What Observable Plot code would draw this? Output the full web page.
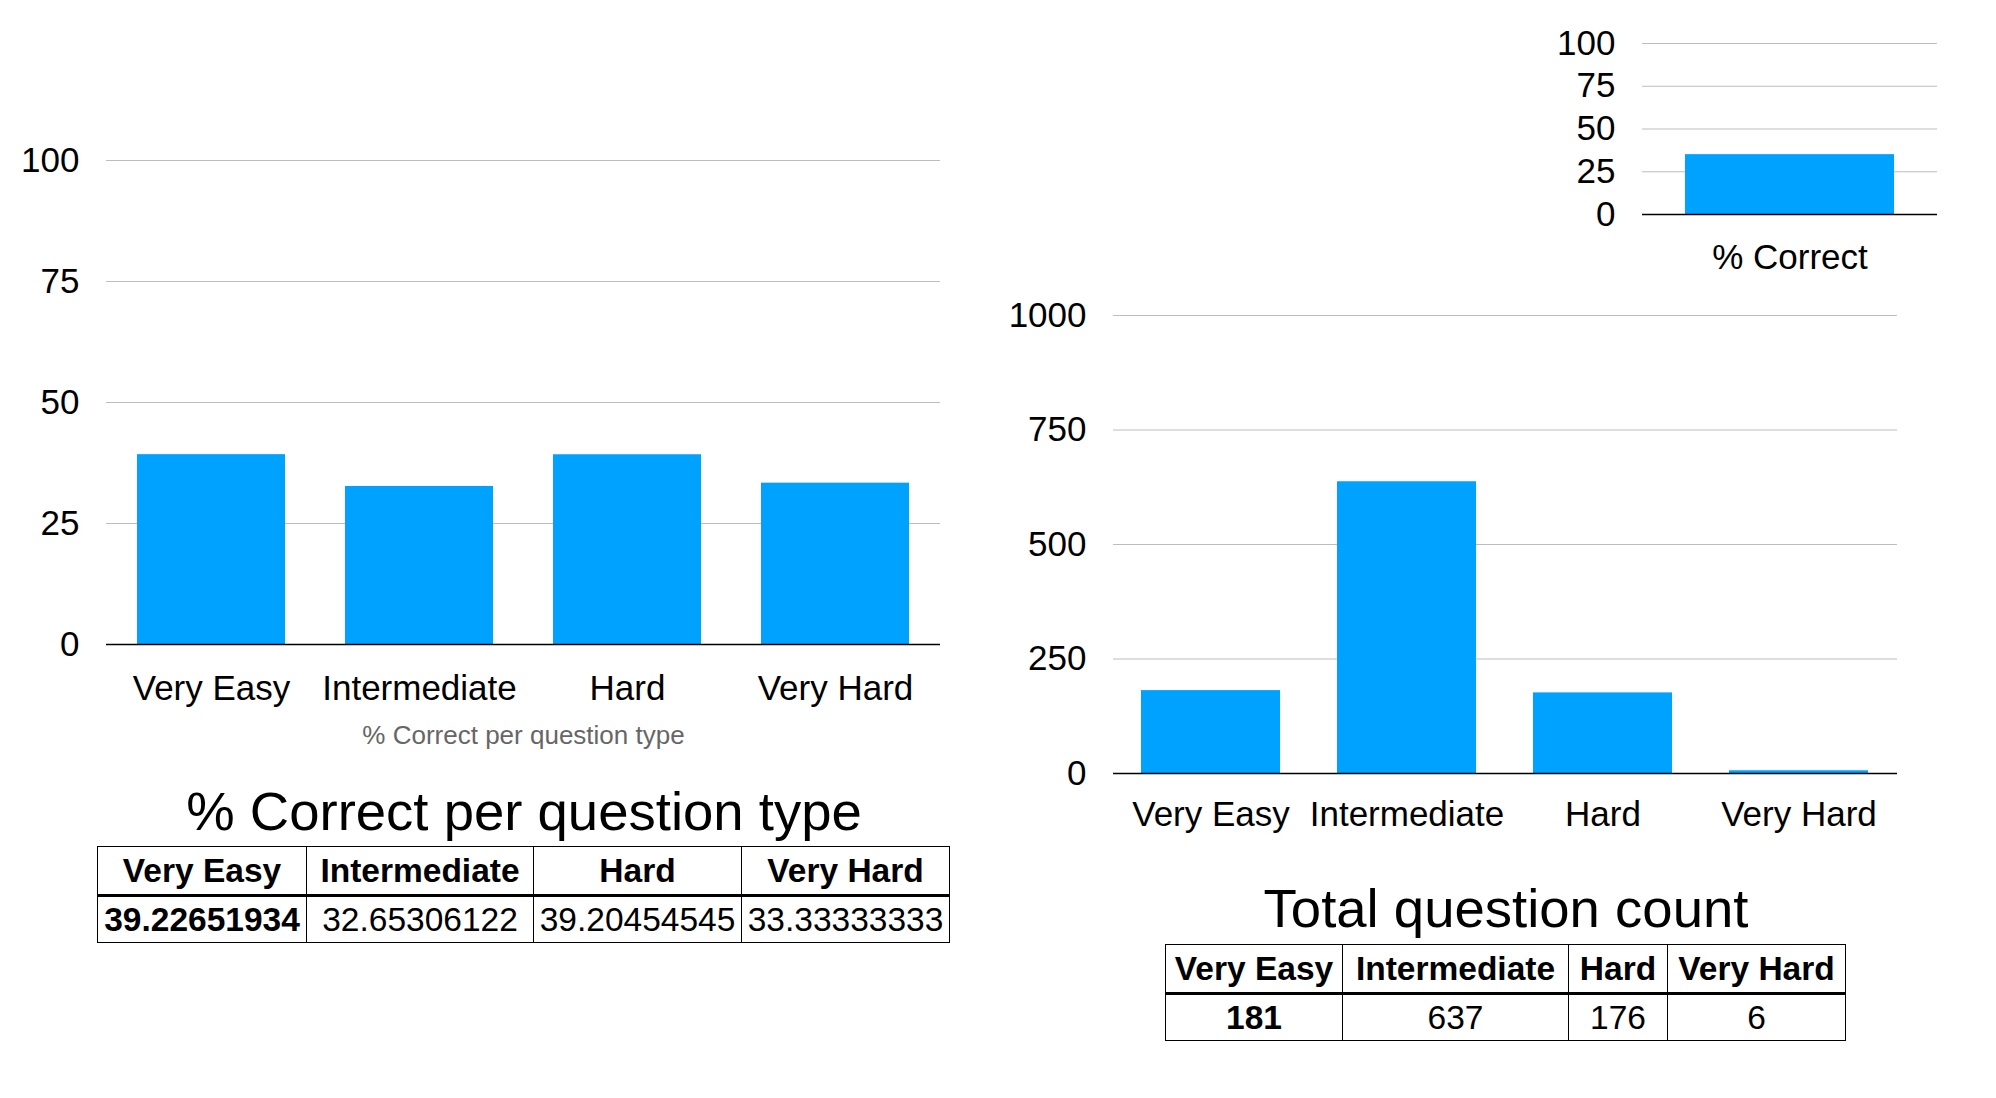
<!DOCTYPE html>
<html><head><meta charset="utf-8">
<script src="https://cdn.jsdelivr.net/npm/d3@7"></script>
<script src="https://cdn.jsdelivr.net/npm/@observablehq/plot@0.6"></script>
<style>
body{margin:0;background:#fff;width:1996px;height:1098px;position:relative;overflow:hidden;font-family:"Liberation Sans",Arial,Helvetica,sans-serif;}
.abs{position:absolute;}
.title{position:absolute;font-size:54.5px;line-height:1;color:#000;white-space:nowrap;transform:translateX(-50%);}
table{border-collapse:collapse;position:absolute;font-size:33.5px;table-layout:fixed;color:#000;}
td,th{border:1.5px solid #000;text-align:center;padding:0;white-space:nowrap;overflow:visible;}
thead th{border-bottom:3.5px solid #000;font-weight:bold;}
td.b{font-weight:bold;}
</style></head><body>
<div id="leftChart" class="abs" style="left:0;top:0"></div>
<div id="overallChart" class="abs" style="left:1500px;top:0"></div>
<div id="countChart" class="abs" style="left:1000px;top:290px"></div>
<div id="leftTitle" class="title" style="left:524px;top:785px"></div>
<div id="rightTitle" class="title" style="left:1506px;top:882px"></div>
<table id="leftTable" style="left:97px;top:846px;width:852px"></table>
<table id="rightTable" style="left:1165px;top:944px;width:680px"></table>
<script>
// ---- data ----
const categories = ["Very Easy", "Intermediate", "Hard", "Very Hard"];
const pctCorrect = [39.22651934, 32.65306122, 39.20454545, 33.33333333];
const questionCount = [181, 637, 176, 6];
const overallCategories = ["% Correct"];
const overallPct = [35];
const pctTicks = [0, 25, 50, 75, 100];
const countTicks = [0, 250, 500, 750, 1000];
const leftCaption = "% Correct per question type";
const leftTitleText = "% Correct per question type";
const rightTitleText = "Total question count";

const FONT = '"Liberation Sans", Arial, Helvetica, sans-serif';
const BLUE = "#00A2FF";

function barChart({names, values, width, height, margins, domain, ticks, yPad, xPad, caption}) {
  const data = names.map((n, i) => ({name: n, value: values[i]}));
  const marks = [
    Plot.gridY(ticks.filter(t => t !== 0), {stroke: "#bdbdbd", strokeOpacity: 1, strokeWidth: 1.2}),
    Plot.barY(data, {x: "name", y: "value", fill: BLUE}),
    Plot.ruleY([0], {stroke: "#000", strokeWidth: 1.6}),
    Plot.axisY(ticks, {tickSize: 0, tickPadding: yPad, fontSize: 35, label: null, tickFormat: d => String(d)}),
    Plot.axisX({tickSize: 0, tickPadding: xPad, fontSize: 35, label: null})
  ];
  if (caption) {
    marks.push(Plot.text([caption], {text: d => d, frameAnchor: "bottom", dy: 99, fontSize: 26, fill: "#666"}));
  }
  return Plot.plot({
    width, height, ...margins,
    style: {fontFamily: FONT, fontSize: "35px", color: "#000", background: "none", maxWidth: "none", overflow: "visible"},
    x: {domain: names, paddingInner: 0.29, paddingOuter: 0.145, label: null},
    y: {domain, label: null},
    marks
  });
}

document.getElementById("leftChart").append(barChart({
  names: categories, values: pctCorrect, width: 960, height: 760,
  margins: {marginLeft: 106, marginRight: 20, marginTop: 160, marginBottom: 116},
  domain: [0, 100], ticks: pctTicks, yPad: 27, xPad: 31, caption: leftCaption
}));

document.getElementById("overallChart").append(barChart({
  names: overallCategories, values: overallPct, width: 496, height: 300,
  margins: {marginLeft: 142, marginRight: 59, marginTop: 43, marginBottom: 86},
  domain: [0, 100], ticks: pctTicks, yPad: 27, xPad: 30
}));

document.getElementById("countChart").append(barChart({
  names: categories, values: questionCount, width: 996, height: 560,
  margins: {marginLeft: 113, marginRight: 99, marginTop: 25, marginBottom: 77},
  domain: [0, 1000], ticks: countTicks, yPad: 27, xPad: 28
}));

document.getElementById("leftTitle").textContent = leftTitleText;
document.getElementById("rightTitle").textContent = rightTitleText;

function buildTable(el, names, values, colWidths, rowHeights) {
  const cg = document.createElement("colgroup");
  colWidths.forEach(w => { const c = document.createElement("col"); c.style.width = w + "px"; cg.append(c); });
  el.append(cg);
  const thead = document.createElement("thead");
  const hr = document.createElement("tr"); hr.style.height = rowHeights[0] + "px";
  names.forEach(n => { const th = document.createElement("th"); th.textContent = n; hr.append(th); });
  thead.append(hr); el.append(thead);
  const tbody = document.createElement("tbody");
  const dr = document.createElement("tr"); dr.style.height = rowHeights[1] + "px";
  values.forEach((v, i) => { const td = document.createElement("td"); td.textContent = String(v); if (i === 0) td.className = "b"; dr.append(td); });
  tbody.append(dr); el.append(tbody);
}
buildTable(document.getElementById("leftTable"), categories, pctCorrect, [209, 227, 208, 208], [49, 47]);
buildTable(document.getElementById("rightTable"), categories, questionCount, [177, 226, 99, 178], [49, 47]);
</script>
</body></html>
